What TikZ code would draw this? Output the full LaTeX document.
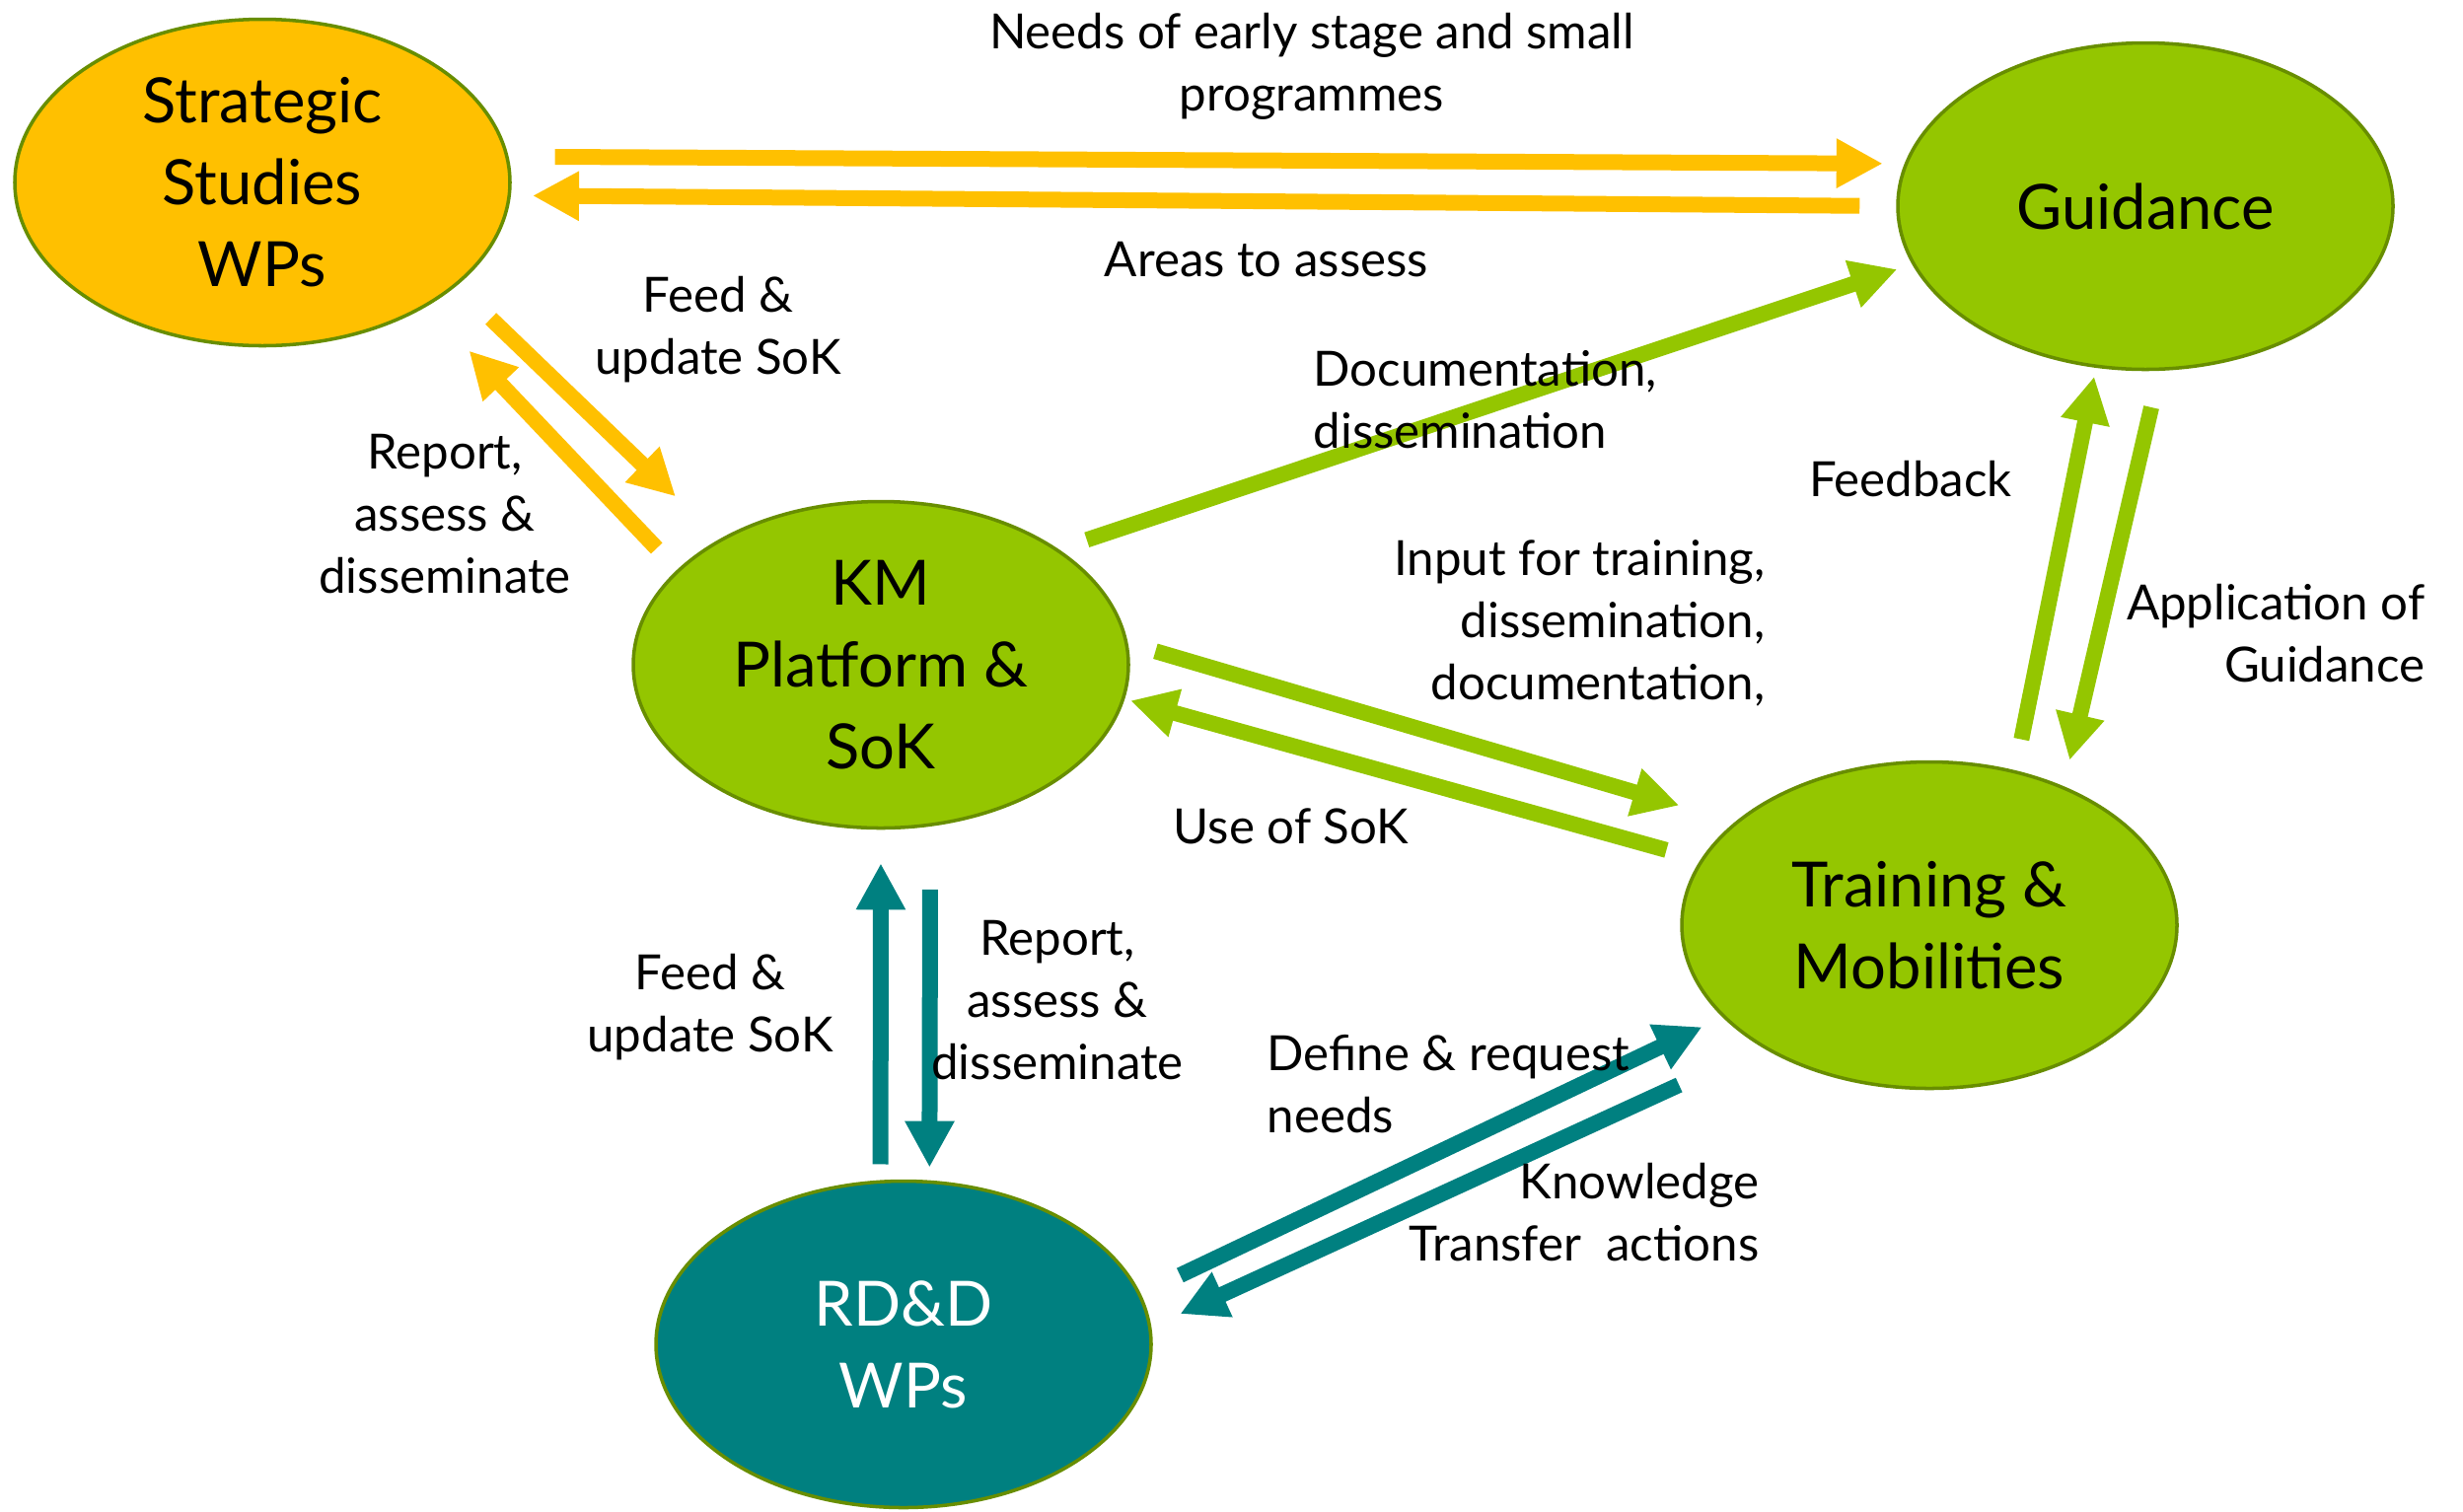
\documentclass[tikz,border=0pt]{standalone}
\usepackage{fontspec}
\setmainfont{Lato}
\usetikzlibrary{arrows.meta,shapes}
\definecolor{ssorange}{RGB}{255,192,0}
\definecolor{kmgreen}{RGB}{148,198,0}
\definecolor{rddteal}{RGB}{0,128,128}
\definecolor{rimgreen}{RGB}{104,142,0}
\tikzset{
    place/.style={ellipse,draw=rimgreen,line width=1pt,minimum width=5.02cm,minimum height=3.31cm,
        inner sep=0pt,align=center,font=\fontsize{18}{23.6}\selectfont},
    note/.style={inner sep=0pt,font=\fontsize{14}{18}\selectfont},
    flow/.style={line width=0.16cm,-{Triangle[width=0.47cm,length=0.47cm]}}
}
\begin{document}
\begin{tikzpicture}
    \useasboundingbox (0,0) rectangle (24.97,-15.32);

    \node [place,fill=ssorange] (strat) at (2.66,-1.85) {Strategic\\Studies\\WPs};
    \node [place,fill=kmgreen] (guid) at (21.75,-2.09) {Guidance};
    \node [place,fill=kmgreen] (km) at (8.93,-6.74) {KM\\Platform \&\\SoK};
    \node [place,fill=kmgreen] (train) at (19.56,-9.38) {Training \&\\Mobilities};
    \node [place,fill=rddteal,text=white] (rdd) at (9.16,-13.63) {RD\&D\\WPs};

    % strategic studies
    \path[flow,ssorange] (strat.6.3) edge[shorten <=0.47cm,shorten >=0.22cm] (guid.170);
    \path[flow,ssorange] (guid.180.3) edge[shorten <=0.37cm,shorten >=0.22cm] (strat.-3.9);
    \path[flow,ssorange] (strat.-28.6) edge[shorten <=0.48cm,shorten >=0.62cm] (km.142.4);
    \path[flow,ssorange] (km.155.6) edge[shorten <=0.30cm,shorten >=0.62cm] (strat.-37.4);

    % km platform, guidance, training
    \path[flow,kmgreen] (km.33.3) edge[shorten <=0.30cm,shorten >=0.16cm] (guid.194.9);
    \path[flow,kmgreen] (km.5.3) edge[shorten <=0.29cm,shorten >=0.59cm] (train.152.2);
    \path[flow,kmgreen] (train.164.1) edge[shorten <=0.36cm,shorten >=0.06cm] (km.-8.7);
    \path[flow,kmgreen] (train.61.8) edge[shorten <=0.32cm,shorten >=0.09cm] (guid.-107.3);
    \path[flow,kmgreen] (guid.-85.6) edge[shorten <=0.38cm,shorten >=0.27cm] (train.46.3);

    % rd&d
    \path[flow,rddteal] (rdd.98) edge[shorten <=0.16cm,shorten >=0.34cm] (km.south);
    \path[flow,rddteal] (km.-73.8) edge[shorten <=0.64cm,shorten >=0.13cm] (rdd.81.7);
    \path[flow,rddteal] (rdd.12.1) edge[shorten <=0.44cm,shorten >=0.23cm] (train.204.2);
    \path[flow,rddteal] (train.216.1) edge[shorten <=0.92cm,shorten >=0.32cm] (rdd.4.5);

    % labels
    \node [note,align=center] (lneeds) at (13.30,-0.67) {Needs of early stage and small\\programmes};
    \node [note] (lareas) at (12.84,-2.63) {Areas to assess};
    \node [note,align=center] (lfeedtop) at (7.28,-3.34) {Feed \&\\update SoK};
    \node [note,align=center] (lreporttop) at (4.51,-5.21) {Report,\\assess \&\\disseminate};
    \node [note,align=left,anchor=west] (ldoc) at (13.31,-4.05) {Documentation,\\dissemination};
    \node [note,align=right,anchor=east] (linput) at (17.90,-6.32) {Input for training,\\dissemination,\\documentation,};
    \node [note] (luse) at (13.09,-8.38) {Use of SoK};
    \node [note] (lfeedback) at (19.37,-4.86) {Feedback};
    \node [note,align=right,anchor=east] (lapply) at (24.59,-6.42) {Application of\\Guidance};
    \node [note,align=center] (lfeedbot) at (7.20,-10.21) {Feed \&\\update SoK};
    \node [note,align=center] (lreportbot) at (10.72,-10.14) {Report,\\assess \&\\disseminate};
    \node [note,align=left,anchor=west] (ldefine) at (12.84,-10.99) {Define \& request\\needs};
    \node [note,align=right,anchor=east] (lknow) at (17.84,-12.29) {Knowledge\\Transfer\ \ actions};
\end{tikzpicture}
\end{document}
